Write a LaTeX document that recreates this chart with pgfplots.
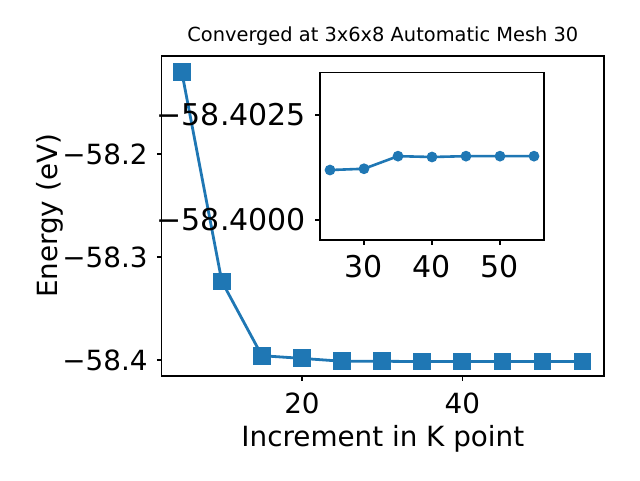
\documentclass[border=0pt]{standalone}
\usepackage{fontspec}
\setmainfont{DejaVu Sans}
\usepackage{pgfplots}
\pgfplotsset{compat=1.18}
\definecolor{mplblue}{RGB}{31,119,180}

\newcommand{\labelfont}{\fontsize{27.8}{32}\selectfont}
\newcommand{\insetfont}{\fontsize{30}{34}\selectfont}

\pgfplotsset{
  mpl/.style={
    scale only axis,
    anchor=south west,
    tick align=outside,
    tick pos=left,
    major tick length=4.9pt,
    axis line style={line width=1.1pt},
    every tick/.style={black, line width=1.1pt},
    tick label style={font=\labelfont},
    /pgf/number format/assume math mode=true,
    xticklabel style={anchor=base, yshift=-33pt, inner sep=0pt},
    yticklabel style={anchor=east, xshift=-9pt, inner sep=0pt},
  }
}

\begin{document}
\begin{tikzpicture}[x=1pt,y=1pt]
\path[use as bounding box] (0,0) rectangle (640,480);

% main convergence curve
\begin{axis}[mpl,
  at={(161.7pt,104pt)}, width=442.3pt, height=320pt,
  xmin=2.5, xmax=57.67, ymin=-58.4155, ymax=-58.1049,
  xtick={20,40}, xticklabels={20,40},
  ytick={-58.4,-58.3,-58.2}, yticklabels={−58.4,−58.3,−58.2},
  title={Converged at 3x6x8 Automatic Mesh 30},
  title style={at={(axis description cs:0.5,1)}, anchor=base, yshift=8.3pt,
               font=\fontsize{19.4}{22}\selectfont},
  xlabel={Increment in K point},
  xlabel style={at={(axis description cs:0.5,0)}, anchor=base, yshift=-70pt, font=\labelfont},
  ylabel={Energy (eV)},
  ylabel style={at={(axis description cs:-0.2216,0.5)}, anchor=south, inner sep=0pt, font=\labelfont},
]
\addplot[mplblue, line width=2.8pt, mark=square*, mark size=7.5pt] coordinates {
  (5,-58.1201) (10,-58.3237) (15,-58.3958) (20,-58.3984) (25,-58.4012)
  (30,-58.4012) (35,-58.4015) (40,-58.4015) (45,-58.4015) (50,-58.4015) (55,-58.4015)
};
\end{axis}

% inset, y axis reversed; values stored as (E + 58.4) in units of 1e-4 eV
\begin{axis}[mpl,
  at={(320pt,240pt)}, width=224pt, height=167.3pt,
  axis background/.style={fill=white},
  tick label style={font=\insetfont},
  xmin=23.53, xmax=56.47, ymin=-35.07, ymax=4.76, y dir=reverse,
  xtick={30,40,50}, xticklabels={30,40,50},
  ytick={-25,0}, yticklabels={−58.4025,−58.4000},
]
\addplot[mplblue, line width=2.6pt, mark=*, mark size=4pt] coordinates {
  (25,-11.9) (30,-12.2) (35,-15.2) (40,-15.0) (45,-15.2) (50,-15.2) (55,-15.2)
};
\end{axis}
\end{tikzpicture}
\end{document}
